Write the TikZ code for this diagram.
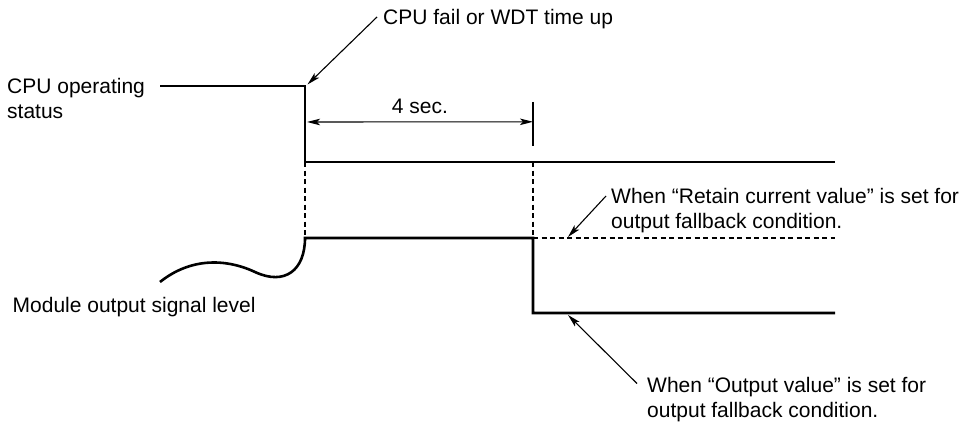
\documentclass[tikz,border=0pt]{standalone}
\usepackage{fontspec}
\setmainfont{Liberation Sans}
\usepackage{tikz}
\usetikzlibrary{arrows.meta, positioning, calc}

\begin{document}
\begin{tikzpicture}[
    x=1pt, y=-1pt,
    caption/.style={inner sep=0pt, align=left, anchor=north west, font=\fontsize{21}{25}\selectfont},
    signal/.style={draw, line width=2.6pt, line join=miter},
    guide/.style={draw, line width=1.1pt, dash pattern=on 5pt off 3.5pt},
    pointer/.style={draw, -{Stealth[length=13pt, width=6.5pt, inset=3pt]}, line width=1.1pt},
    span/.style={draw, {Stealth[length=13pt, width=6.5pt, inset=3pt]}-{Stealth[length=13pt, width=6.5pt, inset=3pt]}, line width=1.1pt}
]
\useasboundingbox (0,0) rectangle (968,425);

% Signal corners
\coordinate (cpustart) at (160,86);
\coordinate (cpudrop) at (305,86);
\coordinate (cpulow) at (305,162);
\coordinate (cpuend) at (835,162);
\coordinate (timeout) at (533,162);
\coordinate (tickhi) at (533,102);
\coordinate (ticklo) at (533,146);
\coordinate (wavestart) at (160,282);
\coordinate (modhigh) at (305,238);
\coordinate (moddrop) at (533,238);
\coordinate (modlow) at (533,313);
\coordinate (modend) at (835,313);
\coordinate (retainend) at (835,238);

% Labels
\node[caption] (cpu) at (7,78) {CPU operating\\status};
\node[caption] (fail) at (383,9.5) {CPU fail or WDT time up};
\node[caption, anchor=center] (delay) at (420,106) {4 sec.};
\node[caption, anchor=base west] (module) at (12.5,312.5) {Module output signal level};
\node[caption] (retain) at (611,188) {When “Retain current value” is set for\\output fallback condition.};
\node[caption] (output) at (647,377.5) {When “Output value” is set for\\output fallback condition.};

% Signals
\draw[signal] (cpustart) -- (cpudrop) -- (cpulow) -- (cpuend);
\draw[signal] (wavestart) .. controls (190,258) and (225,258) .. (255,272)
    .. controls (285,286) and (305,270) .. (modhigh) -- (moddrop) -- (modlow) -- (modend);
\draw[signal, line width=2.2pt, dash pattern=on 5pt off 3.5pt] (moddrop) -- (retainend);

% Guides
\draw[guide] (cpulow) -- (modhigh);
\draw[guide] (timeout) -- (moddrop);
\draw[line width=1.1pt] (tickhi) -- (ticklo);
\draw[span] ($(cpulow)!0.5!(cpudrop)+(2,-2)$) -- ($(tickhi)!0.45!(ticklo)$);

% Pointers
\draw[pointer] ([xshift=-6pt, yshift=-7.5pt]fail.north west) -- ([xshift=2.5pt, yshift=1.5pt]cpudrop);
\draw[pointer] ([xshift=-5pt, yshift=-8pt]retain.north west) -- ([xshift=35pt, yshift=1pt]moddrop);
\draw[pointer] ([xshift=-10pt, yshift=-6pt]output.north west) -- ([xshift=35pt, yshift=-2pt]modlow);

\end{tikzpicture}
\end{document}
